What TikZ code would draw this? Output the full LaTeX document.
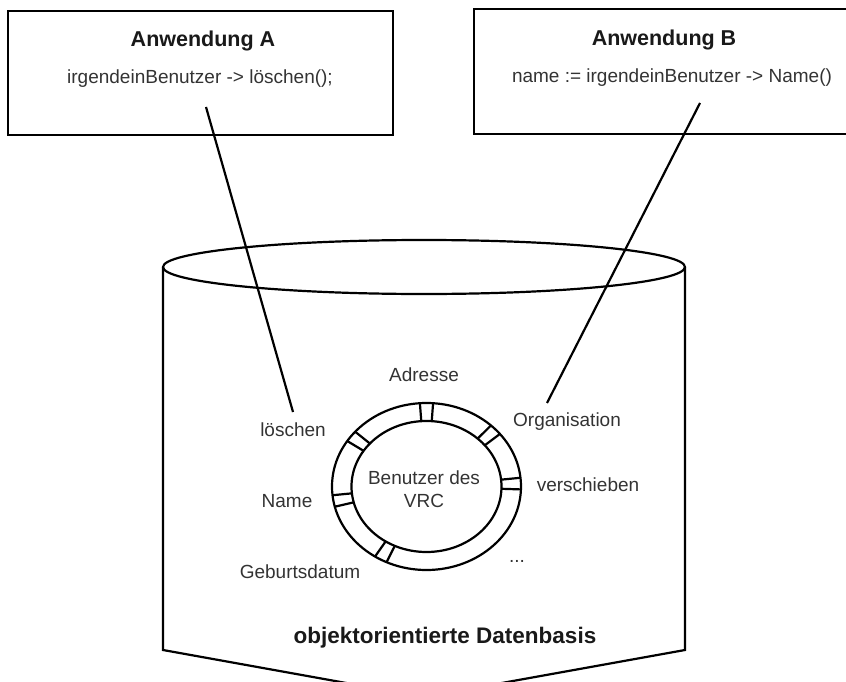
\documentclass[tikz,border=0pt]{standalone}
\usepackage{fontspec}
\setmainfont{Liberation Sans}
\begin{document}
\begin{tikzpicture}[x=1pt,y=-1pt,
  outline/.style={draw=black,line width=2.2pt},
  wire/.style={draw=black,line width=2.2pt},
  title/.style={font=\bfseries\fontsize{21.5}{25}\selectfont,text=black!90,inner sep=0pt},
  code/.style={font=\fontsize{19}{23}\selectfont,text=black!80,inner sep=0pt},
  label/.style={font=\fontsize{19}{23}\selectfont,text=black!80,inner sep=0pt,align=center}]
\useasboundingbox (0,0) rectangle (846,682);
\clip (0,0) rectangle (846,682);

% application boxes
\draw[outline] (8,11) rectangle (393,135);
\node[title] (tA) at (203,41) {Anwendung A};
\node[code]  (cA) at (200,79) {irgendeinBenutzer -> löschen();};

\draw[outline] (474,9) rectangle (872,134);
\node[title] (tB) at (664,40) {Anwendung B};
\node[code]  (cB) at (672,78) {name := irgendeinBenutzer -> Name()};

% database cylinder with pointed bottom
\draw[outline] (424,267) ellipse [x radius=261, y radius=27];
\draw[outline] (163,267) -- (163,650) -- (424,697) -- (685,650) -- (685,267);
\node[title,font=\bfseries\fontsize{22.5}{26}\selectfont] (db) at (445,638) {objektorientierte Datenbasis};

% object ring
\coordinate (oc) at (426.5,486.5);
\draw[outline] (oc) ellipse [x radius=94.5, y radius=83.5];
\draw[outline] (oc) ellipse [x radius=75, y radius=65.5];
\foreach \t in {90,43,2,143,190,241}{
  \foreach \d in {-4,4}{
    \draw[wire] ({426.5+75*cos(\t+\d)},{486.5-65.5*sin(\t+\d)}) --
                ({426.5+94.5*cos(\t+\d)},{486.5-83.5*sin(\t+\d)});
  }
}
\node[label] (obj) at (424,489) {Benutzer des\\VRC};

% attribute and method labels
\node[label] (adr) at (424,375) {Adresse};
\node[label] (del) at (293,430) {löschen};
\node[label] (org) at (567,422) {Organisation};
\node[label] (nam) at (287,501) {Name};
\node[label] (mov) at (588,485) {verschieben};
\node[label] (geb) at (300,572) {Geburtsdatum};
\node[label] (etc) at (517,561) {...};

% calls from the applications into the object
\coordinate (a1) at (206,107);
\coordinate (a2) at (293,412);
\coordinate (b1) at (700,103);
\coordinate (b2) at (547,403);
\draw[wire] (a1) -- (a2);
\draw[wire] (b1) -- (b2);
\end{tikzpicture}
\end{document}
